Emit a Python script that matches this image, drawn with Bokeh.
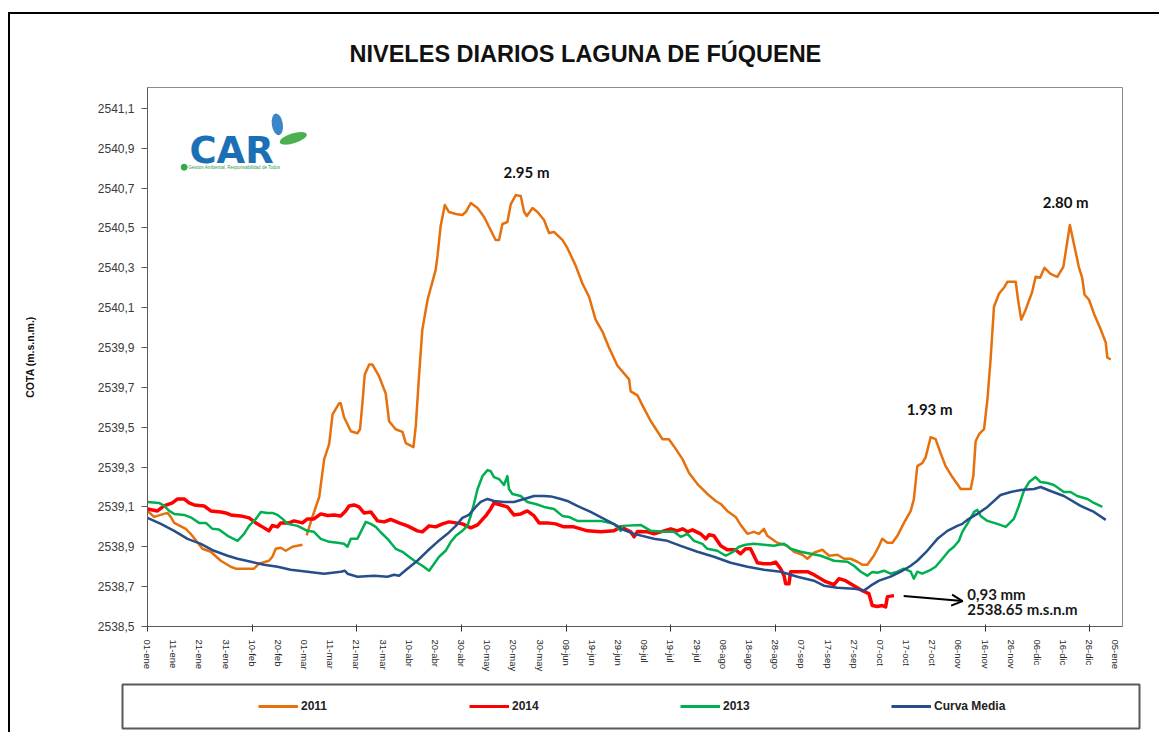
import numpy as np
from bokeh.plotting import figure
from bokeh.layouts import column
from bokeh.models import (Range1d, FixedTicker, CustomJSTickFormatter, Label, Legend, Title,
                          LegendItem, Arrow, OpenHead, ColumnDataSource)
from bokeh.embed import file_html
from bokeh.resources import INLINE

# ---------------- data ----------------
x_ticks = list(range(0, 371, 10))
x_tick_labels = ["01-ene", "11-ene", "21-ene", "31-ene", "10-feb", "20-feb", "01-mar", "11-mar",
                 "21-mar", "31-mar", "10-abr", "20-abr", "30-abr", "10-may", "20-may", "30-may",
                 "09-jun", "19-jun", "29-jun", "09-jul", "19-jul", "29-jul", "08-ago", "18-ago",
                 "28-ago", "07-sep", "17-sep", "27-sep", "07-oct", "17-oct", "27-oct", "06-nov",
                 "16-nov", "26-nov", "06-dic", "16-dic", "26-dic", "05-ene"]
x_tick_marks = list(range(0, 361, 40))
y_ticks = [2538.5, 2538.7, 2538.9, 2539.1, 2539.3, 2539.5, 2539.7, 2539.9,
           2540.1, 2540.3, 2540.5, 2540.7, 2540.9, 2541.1]

serie_2011 = [
    (0, 2539.08), (2.5, 2539.05), (7.6, 2539.07), (8.9, 2539.05), (10.2, 2539.02), (14.6, 2538.99),
    (16.5, 2538.965), (21.0, 2538.89), (24.2, 2538.875), (28.0, 2538.83), (31.8, 2538.80),
    (33.7, 2538.79), (40.7, 2538.79), (42.6, 2538.815), (46.4, 2538.83), (47.7, 2538.85),
    (49.0, 2538.89), (50.9, 2538.895), (52.8, 2538.88), (55.4, 2538.90), (59.2, 2538.91),
    (60.0, float("nan")),
    (60.8, 2538.957), (63.0, 2539.05), (64.3, 2539.10), (65.6, 2539.15), (67.5, 2539.34),
    (69.4, 2539.415), (70.7, 2539.565), (73.2, 2539.62), (73.8, 2539.62), (75.1, 2539.55),
    (77.7, 2539.48), (80.2, 2539.47), (81.2, 2539.49), (82.1, 2539.62), (83.0, 2539.765),
    (84.7, 2539.815), (85.9, 2539.815), (88.5, 2539.755), (91.0, 2539.67), (92.3, 2539.53),
    (94.8, 2539.49), (97.4, 2539.477), (98.7, 2539.42), (101.6, 2539.40), (102.5, 2539.507),
    (103.7, 2539.75), (105.0, 2539.99), (107.0, 2540.14), (110.1, 2540.29), (110.8, 2540.36),
    (112.0, 2540.51), (113.6, 2540.615), (115.2, 2540.58), (117.8, 2540.57), (120.3, 2540.565),
    (121.6, 2540.58), (123.5, 2540.625), (126.1, 2540.60), (128.6, 2540.555), (131.1, 2540.49),
    (133.0, 2540.44), (134.3, 2540.44), (135.6, 2540.52), (137.5, 2540.53), (138.8, 2540.62),
    (140.7, 2540.665), (142.6, 2540.66), (143.9, 2540.58), (144.9, 2540.56), (147.1, 2540.60),
    (149.0, 2540.58), (151.5, 2540.54), (153.4, 2540.475), (155.3, 2540.48), (158.5, 2540.44),
    (160.4, 2540.40), (163.6, 2540.31), (166.2, 2540.22), (168.7, 2540.155), (171.2, 2540.04),
    (173.8, 2539.98), (176.3, 2539.90), (179.5, 2539.81), (184.0, 2539.74), (184.6, 2539.68),
    (187.2, 2539.66), (189.1, 2539.61), (192.3, 2539.53), (194.8, 2539.48), (196.7, 2539.44),
    (199.2, 2539.44), (201.1, 2539.405), (204.4, 2539.34), (206.9, 2539.27), (210.1, 2539.215),
    (213.9, 2539.165), (217.1, 2539.13), (219.0, 2539.115), (221.5, 2539.08), (224.7, 2539.05),
    (226.6, 2539.01), (229.2, 2538.965), (231.7, 2538.975), (233.6, 2538.965), (235.5, 2538.99),
    (236.8, 2538.955), (240.6, 2538.92), (244.5, 2538.905), (247.0, 2538.875), (250.2, 2538.86),
    (252.1, 2538.84), (254.6, 2538.87), (257.8, 2538.885), (260.4, 2538.855), (263.6, 2538.86),
    (266.1, 2538.84), (268.6, 2538.84), (271.2, 2538.825), (273.1, 2538.81), (275.0, 2538.81),
    (277.5, 2538.855), (279.5, 2538.905), (280.7, 2538.94), (282.7, 2538.92), (284.6, 2538.92),
    (286.5, 2538.955), (289.0, 2539.02), (291.6, 2539.08), (292.8, 2539.14), (294.1, 2539.305),
    (296.0, 2539.32), (297.3, 2539.35), (299.2, 2539.45), (301.1, 2539.44), (303.0, 2539.37),
    (304.9, 2539.305), (307.5, 2539.25), (310.7, 2539.19), (314.5, 2539.19), (315.5, 2539.255),
    (316.4, 2539.43), (317.7, 2539.465), (319.6, 2539.49), (320.9, 2539.64), (322.1, 2539.84),
    (323.4, 2540.105), (325.3, 2540.17), (327.2, 2540.20), (328.5, 2540.23), (331.7, 2540.23),
    (332.6, 2540.14), (333.8, 2540.04), (335.5, 2540.09), (338.0, 2540.18), (339.3, 2540.255),
    (341.0, 2540.25), (342.7, 2540.30), (345.0, 2540.27), (347.6, 2540.255), (349.9, 2540.305),
    (352.4, 2540.515), (354.6, 2540.38), (355.8, 2540.305), (357.1, 2540.25), (358.0, 2540.165),
    (359.7, 2540.14), (361.6, 2540.07), (364.2, 2539.99), (366.1, 2539.925), (366.7, 2539.85),
    (368.0, 2539.84),
]

serie_2014 = [
    (0, 2539.09), (3.8, 2539.08), (6.3, 2539.105), (9.5, 2539.12), (11.5, 2539.14), (14.0, 2539.14),
    (15.9, 2539.12), (17.8, 2539.11), (21.6, 2539.105), (24.2, 2539.08), (28.0, 2539.075),
    (29.9, 2539.07), (31.8, 2539.06), (35.6, 2539.055), (38.8, 2539.045), (41.4, 2539.02),
    (43.9, 2539.00), (46.4, 2538.98), (47.7, 2539.007), (49.7, 2539.00), (50.9, 2539.02),
    (54.1, 2539.02), (56.0, 2539.03), (59.2, 2539.02), (61.1, 2539.04), (63.6, 2539.04),
    (66.2, 2539.065), (68.8, 2539.057), (71.3, 2539.06), (73.8, 2539.055), (75.7, 2539.08),
    (77.0, 2539.105), (78.9, 2539.11), (80.8, 2539.10), (82.7, 2539.07), (85.3, 2539.075),
    (87.9, 2539.03), (90.4, 2539.025), (92.9, 2539.037), (96.1, 2539.02), (99.3, 2539.005),
    (103.1, 2538.98), (105.0, 2538.975), (107.6, 2539.005), (110.1, 2539.00), (112.7, 2539.015),
    (115.2, 2539.025), (117.8, 2539.02), (120.3, 2539.015), (123.5, 2538.995), (126.1, 2539.01),
    (129.2, 2539.055), (131.1, 2539.09), (132.4, 2539.12), (135.0, 2539.11), (137.5, 2539.10),
    (140.0, 2539.06), (142.6, 2539.065), (145.1, 2539.08), (147.7, 2539.055), (149.6, 2539.02),
    (152.8, 2539.02), (155.9, 2539.015), (159.1, 2539.00), (162.9, 2539.00), (168.1, 2538.98),
    (173.1, 2538.975), (178.2, 2538.98), (180.8, 2539.00), (184.6, 2538.975), (185.9, 2538.95),
    (187.2, 2538.977), (191.0, 2538.975), (193.5, 2538.965), (196.1, 2538.975), (199.9, 2538.99),
    (202.4, 2538.98), (204.4, 2538.99), (206.3, 2538.975), (208.2, 2538.985), (211.3, 2538.965),
    (213.3, 2538.94), (214.5, 2538.96), (216.4, 2538.955), (219.0, 2538.905), (221.5, 2538.885),
    (224.7, 2538.885), (226.6, 2538.865), (228.5, 2538.89), (230.4, 2538.89), (231.7, 2538.855),
    (233.0, 2538.82), (235.5, 2538.815), (238.1, 2538.815), (240.0, 2538.823), (241.9, 2538.79),
    (243.2, 2538.755), (243.8, 2538.715), (245.1, 2538.715), (245.7, 2538.775), (248.3, 2538.775),
    (252.1, 2538.775), (254.6, 2538.76), (257.2, 2538.74), (259.1, 2538.725), (262.3, 2538.71),
    (264.2, 2538.74), (266.7, 2538.73), (269.9, 2538.705), (273.1, 2538.68), (275.6, 2538.665),
    (276.9, 2538.605), (278.8, 2538.60), (280.7, 2538.605), (282.0, 2538.598), (282.7, 2538.65),
    (285.2, 2538.655),
]

serie_2013 = [
    (0, 2539.125), (4.4, 2539.12), (6.3, 2539.107), (8.3, 2539.08), (10.2, 2539.065), (14.0, 2539.06),
    (16.5, 2539.048), (19.7, 2539.02), (22.3, 2539.02), (24.8, 2538.99), (27.3, 2538.987),
    (30.6, 2538.955), (34.4, 2538.93), (36.9, 2538.965), (38.8, 2539.005), (41.4, 2539.04),
    (43.3, 2539.075), (45.8, 2539.07), (47.7, 2539.07), (49.7, 2539.06), (51.6, 2539.04),
    (53.5, 2539.015), (57.3, 2539.005), (61.1, 2538.98), (63.6, 2538.975), (66.2, 2538.94),
    (69.4, 2538.925), (72.6, 2538.92), (75.1, 2538.915), (76.4, 2538.90), (77.7, 2538.94),
    (80.2, 2538.94), (81.5, 2538.975), (83.4, 2539.025), (85.3, 2539.015), (87.2, 2539.00),
    (89.1, 2538.973), (91.7, 2538.94), (94.8, 2538.89), (97.4, 2538.875), (99.9, 2538.85),
    (102.5, 2538.825), (105.0, 2538.805), (107.6, 2538.78), (109.5, 2538.815), (111.4, 2538.85),
    (113.9, 2538.88), (115.9, 2538.925), (117.8, 2538.955), (120.3, 2538.98), (122.2, 2539.005),
    (123.5, 2539.055), (124.8, 2539.12), (126.1, 2539.19), (128.0, 2539.255), (129.9, 2539.285),
    (131.1, 2539.28), (132.4, 2539.25), (134.3, 2539.24), (136.2, 2539.21), (137.5, 2539.255),
    (138.1, 2539.19), (139.4, 2539.165), (142.6, 2539.155), (145.1, 2539.125), (148.3, 2539.115),
    (151.5, 2539.10), (155.3, 2539.09), (158.5, 2539.055), (161.0, 2539.05), (164.2, 2539.03),
    (168.1, 2539.03), (173.1, 2539.03), (178.2, 2539.015), (180.8, 2538.98), (181.4, 2539.005),
    (188.4, 2539.01), (192.3, 2538.98), (197.3, 2538.975), (201.1, 2538.975), (203.7, 2538.95),
    (206.3, 2538.965), (208.8, 2538.93), (212.0, 2538.915), (213.9, 2538.89), (217.7, 2538.88),
    (220.9, 2538.855), (223.5, 2538.873), (226.0, 2538.90), (228.5, 2538.91), (231.7, 2538.915),
    (235.5, 2538.91), (239.3, 2538.905), (243.2, 2538.915), (245.7, 2538.89), (249.5, 2538.875),
    (253.4, 2538.865), (257.2, 2538.855), (262.3, 2538.83), (267.4, 2538.825), (269.9, 2538.805),
    (272.5, 2538.775), (275.0, 2538.755), (276.9, 2538.773), (278.8, 2538.77), (281.4, 2538.78),
    (283.9, 2538.765), (286.5, 2538.775), (289.0, 2538.79), (291.6, 2538.775), (292.8, 2538.74),
    (294.1, 2538.775), (296.0, 2538.765), (298.6, 2538.78), (301.1, 2538.80), (303.7, 2538.84),
    (306.2, 2538.88), (308.1, 2538.90), (310.0, 2538.93), (311.3, 2538.975), (313.2, 2539.015),
    (315.8, 2539.075), (317.0, 2539.085), (318.3, 2539.055), (320.9, 2539.03), (324.7, 2539.015),
    (327.9, 2539.00), (331.0, 2539.04), (332.9, 2539.105), (334.8, 2539.18), (336.8, 2539.225),
    (339.3, 2539.25), (341.2, 2539.225), (343.8, 2539.22), (346.3, 2539.21), (350.1, 2539.175),
    (352.7, 2539.175), (355.2, 2539.155), (359.1, 2539.14), (361.6, 2539.12), (364.8, 2539.10),
]

serie_media = [
    (0, 2539.045), (5.1, 2539.015), (10.2, 2538.98), (15.3, 2538.94), (20.4, 2538.915), (25.4, 2538.88),
    (30.6, 2538.855), (34.4, 2538.84), (39.5, 2538.825), (44.5, 2538.81), (49.7, 2538.80),
    (54.7, 2538.785), (61.1, 2538.775), (67.5, 2538.765), (73.8, 2538.775), (75.4, 2538.78),
    (76.4, 2538.765), (80.2, 2538.75), (86.6, 2538.755), (91.7, 2538.75), (94.2, 2538.76),
    (96.1, 2538.755), (99.3, 2538.79), (103.1, 2538.83), (107.0, 2538.88), (110.8, 2538.925),
    (114.6, 2538.965), (117.8, 2539.005), (120.3, 2539.045), (122.8, 2539.06), (125.4, 2539.10),
    (127.3, 2539.125), (129.9, 2539.14), (132.4, 2539.13), (136.2, 2539.125), (140.0, 2539.125),
    (143.9, 2539.14), (147.7, 2539.155), (151.5, 2539.155), (154.1, 2539.153), (157.9, 2539.14),
    (160.4, 2539.13), (164.2, 2539.105), (169.3, 2539.075), (174.4, 2539.04), (179.5, 2539.005),
    (180.8, 2538.99), (185.9, 2538.965), (193.5, 2538.94), (198.6, 2538.93), (203.7, 2538.905),
    (210.1, 2538.875), (216.4, 2538.85), (222.8, 2538.82), (229.2, 2538.80), (235.5, 2538.785),
    (241.9, 2538.775), (248.3, 2538.75), (254.6, 2538.73), (258.4, 2538.705), (263.6, 2538.695),
    (269.9, 2538.69), (273.7, 2538.68), (276.3, 2538.705), (279.5, 2538.73), (283.9, 2538.75),
    (287.8, 2538.775), (291.6, 2538.805), (294.1, 2538.83), (297.9, 2538.88), (301.8, 2538.94),
    (305.6, 2538.98), (309.4, 2539.005), (311.3, 2539.015), (313.2, 2539.035), (317.0, 2539.065),
    (320.9, 2539.10), (325.9, 2539.16), (329.8, 2539.175), (333.6, 2539.185), (338.7, 2539.19),
    (341.2, 2539.20), (345.0, 2539.18), (350.1, 2539.155), (356.5, 2539.105), (361.6, 2539.075),
    (366.1, 2539.035),
]

series_names = ["2011", "2014", "2013", "Curva Media"]
series_colors = ["#E5700C", "#FF0000", "#00B050", "#254E8A"]
series_widths = [2.5, 3.5, 2.5, 2.5]

# ---------------- main figure ----------------
p = figure(width=1149, height=660, x_range=Range1d(0, 372.5), y_range=Range1d(2538.5, 2541.205),
           output_backend="svg", toolbar_location=None,
           min_border_left=137, min_border_right=37, min_border_top=73, min_border_bottom=46)
p.background_fill_color = "white"
p.border_fill_color = "white"
p.outline_line_color = "#8c8c8c"
p.outline_line_width = 1
p.xgrid.visible = False
p.ygrid.visible = False

title_offset = 202
p.title.text = "NIVELES DIARIOS LAGUNA DE FÚQUENE"
p.title.align = "left"
p.title.text_font = "Liberation Sans"
p.title.text_font_style = "bold"
p.title.text_font_size = "23.5px"
p.title.text_color = "#111111"
if "padding" in p.title.properties():
    p.title.padding = 16
    title_offset -= 16
else:
    p.add_layout(Title(text=" ", text_font_size="9px"), "above")
p.title.offset = title_offset

sources = []
for name, data, color, width in zip(series_names, [serie_2011, serie_2014, serie_2013, serie_media],
                                    series_colors, series_widths):
    arr = np.array(data, dtype=float)
    src = ColumnDataSource(dict(x=arr[:, 0], y=arr[:, 1]))
    sources.append(src)
    p.line("x", "y", source=src, line_color=color, line_width=width, line_join="round")

# y axis
p.yaxis.ticker = FixedTicker(ticks=y_ticks)
p.yaxis.formatter = CustomJSTickFormatter(code="return tick.toFixed(1).replace('.', ',');")
p.yaxis.major_tick_out = 6
p.yaxis.major_tick_in = 0
p.yaxis.minor_tick_out = 0
p.yaxis.minor_tick_in = 0
p.yaxis.major_label_standoff = 7
p.yaxis.major_label_text_font = "Liberation Sans"
p.yaxis.major_label_text_font_size = "12px"
p.yaxis.major_label_text_color = "#3a3a3a"
p.yaxis.axis_line_color = "#5a5a5a"
p.yaxis.major_tick_line_color = "#5a5a5a"
p.yaxis.axis_label = "COTA (m.s.n.m.)"
p.yaxis.axis_label_text_font = "Liberation Sans"
p.yaxis.axis_label_text_font_style = "bold"
p.yaxis.axis_label_text_font_size = "10.5px"
p.yaxis.axis_label_text_color = "#111111"
p.yaxis.axis_label_standoff = 59

# x axis
p.xaxis.ticker = FixedTicker(ticks=x_ticks, minor_ticks=x_tick_marks)
p.xaxis.major_label_overrides = {t: lab for t, lab in zip(x_ticks, x_tick_labels)}
p.xaxis.major_label_orientation = "vertical"
p.xaxis.major_tick_out = 0
p.xaxis.major_tick_in = 0
p.xaxis.minor_tick_out = 5
p.xaxis.minor_tick_in = 2
p.xaxis.minor_tick_line_color = "#333333"
p.xaxis.major_label_standoff = 8
p.xaxis.major_label_text_font = "Liberation Sans"
p.xaxis.major_label_text_font_size = "9.5px"
p.xaxis.major_label_text_color = "#262626"
p.xaxis.axis_line_color = "#5a5a5a"

# annotations
ann_font = "Lato"
for x, y, t in [(144.8, 2540.78, "2.95 m"), (350.8, 2540.63, "2.80 m"), (298.8, 2539.59, "1.93 m")]:
    p.add_layout(Label(x=x, y=y, text=t, text_align="center", text_baseline="middle",
                       text_font=ann_font, text_font_style="bold", text_font_size="15px",
                       text_color="#111111"))
for y, t in [(2538.665, "0,93 mm"), (2538.59, "2538.65 m.s.n.m")]:
    p.add_layout(Label(x=313.2, y=y, text=t, text_align="left", text_baseline="middle",
                       text_font=ann_font, text_font_style="bold", text_font_size="15px",
                       text_color="#1a1a1a"))
p.add_layout(Arrow(x_start=288.9, y_start=2538.6525, x_end=311.4, y_end=2538.6275,
                   line_color="black", line_width=2,
                   end=OpenHead(size=11, line_width=2, line_color="black")))

# CAR logo
p.add_layout(Label(x=16.0, y=2540.8875, text="CAR", text_baseline="middle",
                   text_font="DejaVu Sans", text_font_style="bold", text_font_size="37px",
                   text_color="#1B6FB5"))
p.add_layout(Label(x=15.6, y=2540.805, text="Gestión Ambiental, Responsabilidad de Todos",
                   text_baseline="middle", text_font="Liberation Sans", text_font_size="4.5px",
                   text_color="#2E9B48"))
p.scatter(x=[14.0], y=[2540.805], size=6, color="#34A84A")
p.ellipse(x=[49.6], y=[2541.02], width=11, height=22, width_units="screen", height_units="screen",
          angle=0.15, fill_color="#3C86C8", line_color=None)
p.ellipse(x=[55.7], y=[2540.95], width=28, height=10, width_units="screen", height_units="screen",
          angle=0.3, fill_color="#4DB04F", line_color=None)

# ---------------- legend box (second figure) ----------------
p2 = figure(width=1149, height=58, x_range=Range1d(0, 1), y_range=Range1d(0, 1),
            output_backend="svg", toolbar_location=None, x_axis_location=None, y_axis_location=None,
            min_border_left=112, min_border_right=20, min_border_top=10, min_border_bottom=4)
for fig in (p, p2):
    if "frame_align" in fig.properties():
        fig.frame_align = False
p2.background_fill_color = "white"
p2.border_fill_color = "white"
p2.outline_line_color = "#595959"
p2.outline_line_width = 2
p2.xgrid.visible = False
p2.ygrid.visible = False
# legend keys: same series (outside this box's ranges, so only their legend glyphs show)
keys = [p2.line("x", "y", source=s, line_color=c, line_width=3)
        for s, c in zip(sources, series_colors)]
legend = Legend(items=[LegendItem(label=n, renderers=[r]) for n, r in zip(series_names, keys)],
                location=(136, 12), orientation="horizontal", glyph_width=40, glyph_height=20,
                label_width=166, label_height=20, label_standoff=3, spacing=2, padding=0, margin=0,
                border_line_color=None, background_fill_alpha=0,
                label_text_font="Liberation Sans", label_text_font_style="bold",
                label_text_font_size="12px", label_text_color="#222222")
p2.add_layout(legend)

layout = column(p, p2, margin=(12, 0, 0, 8),
                styles={"border-left": "2px solid #000000", "border-top": "2px solid #000000"})

open("out.html", "w").write(file_html(layout, INLINE))
